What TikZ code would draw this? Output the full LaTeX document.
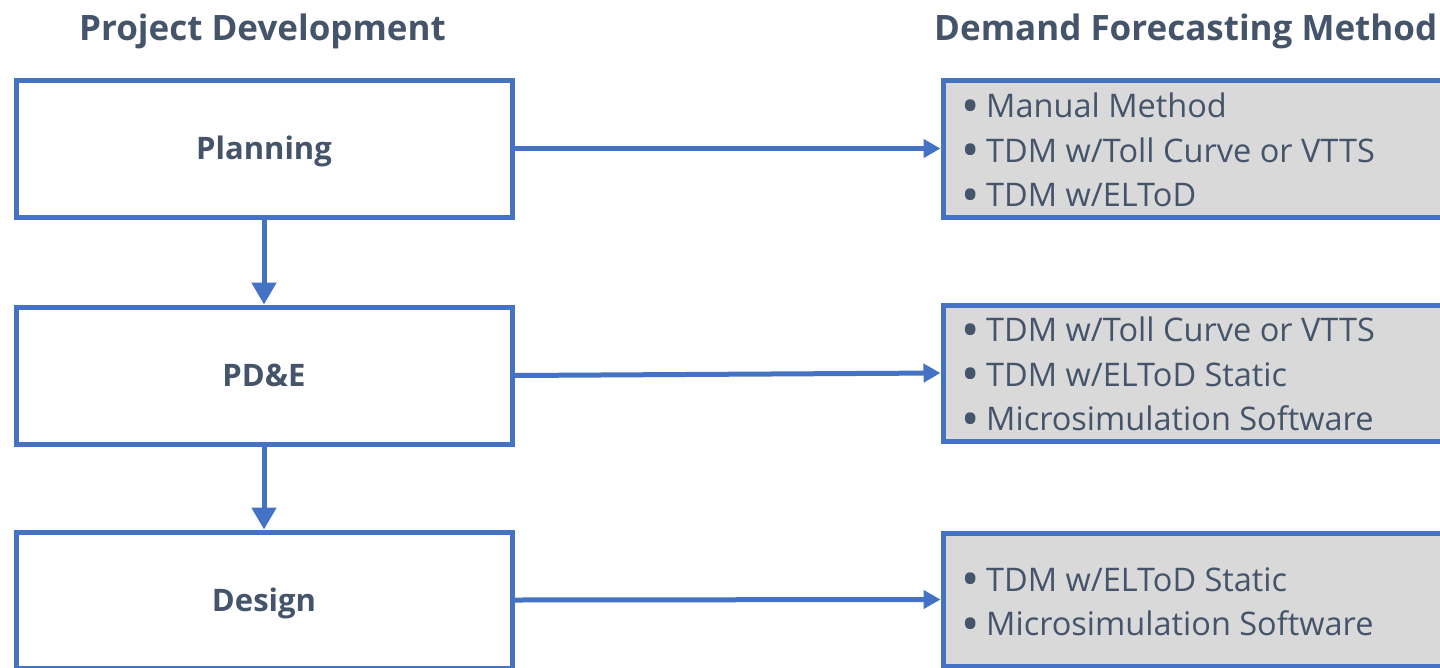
\documentclass[tikz,border=0pt]{standalone}
\usepackage{fontspec}
\setmainfont{Open Sans}
\usetikzlibrary{arrows.meta}
\definecolor{edgeblue}{HTML}{4472C4}
\definecolor{inkslate}{HTML}{44546A}
\definecolor{panelgray}{HTML}{D9D9D9}
\newcommand{\blt}[1]{\makebox[25pt][l]{\raisebox{-5.5pt}{\scalebox{1.5}{•}}}#1}
\begin{document}
\begin{tikzpicture}[x=1pt,y=1pt,
  stage/.style={draw=edgeblue, line width=5pt, fill=white, minimum width=496pt,
    text=inkslate, text height=22pt, text depth=0pt, font=\fontsize{31}{36}\selectfont\bfseries},
  method/.style={draw=edgeblue, line width=5pt, fill=panelgray, minimum width=700pt, anchor=west},
  items/.style={anchor=west, inner sep=0pt, align=left, text=inkslate,
    font=\fontsize{32.5}{44.5}\selectfont},
  heading/.style={text=inkslate, inner sep=0pt, font=\fontsize{35}{40}\selectfont\bfseries},
  flow/.style={draw=edgeblue, line width=5pt, -{Triangle[length=22pt,width=24pt]}},
  feed/.style={draw=edgeblue, line width=5pt, -{Triangle[length=17pt,width=18pt]}}]
\useasboundingbox (0,0) rectangle (1440,-667);

% column headings
\node[heading] (hleft) at (262.5,-31) {Project Development};
\node[heading, anchor=west] (hright) at (934,-31) {Demand Forecasting Method};

% project stages
\node[stage, minimum height=137pt] (plan) at (264,-148.5) {Planning};
\node[stage, minimum height=137pt] (pde) at (264,-375.5) {PD\&E};
\node[stage, minimum height=136pt] (design) at (264,-600) {Design};

% forecasting method panels
\node[method, minimum height=137pt] (m1) at (940.5,-148.5) {};
\node[method, minimum height=136pt] (m2) at (940.5,-373) {};
\node[method, minimum height=133pt] (m3) at (940.5,-599.5) {};

\node[items] (l1) at (961,-152.5) {\blt{Manual Method}\\\blt{TDM w/Toll Curve or VTTS}\\\blt{TDM w/ELToD}};
\node[items] (l2) at (961,-376.5) {\blt{TDM w/Toll Curve or VTTS}\\\blt{TDM w/ELToD Static}\\\blt{Microsimulation Software}};
\node[items] (l3) at (961,-604.5) {\blt{TDM w/ELToD Static}\\\blt{Microsimulation Software}};

% connectors
\draw[flow] (plan.south) -- (pde.north);
\draw[flow] (pde.south) -- (design.north);
\draw[feed] (plan.east) -- (m1.west);
\draw[feed] (pde.east) -- (m2.west);
\draw[feed] (design.east) -- (m3.west);
\end{tikzpicture}
\end{document}
